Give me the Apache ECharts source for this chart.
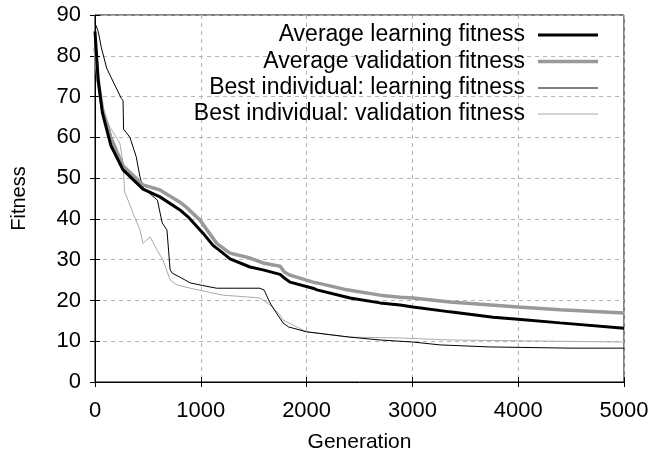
<!DOCTYPE html>
<html><head><meta charset="utf-8">
<script src="https://cdn.jsdelivr.net/npm/echarts@6/dist/echarts.min.js"></script>
<style>html,body{margin:0;padding:0;background:#fff}#c{width:655px;height:462px}</style>
</head><body><div id="c"></div>
<script>
const seriesNames = ['Average learning fitness','Average validation fitness','Best individual: learning fitness','Best individual: validation fitness'];
const xTicks = [0,1000,2000,3000,4000,5000];
const yTicks = [0,10,20,30,40,50,60,70,80,90];

const genAvgLearn = [0,30,70,150,265,454,614,803,879,1021,1115,1210,1276,1465,1588,1749,1790,1843,2060,2098,2382,2410,2694,2883,3006,3355,3762,3998,4395,5000];
const valAvgLearn = [86,74,66,58,52,47.3,45.4,42.2,40.5,36.5,33.5,31.6,30.2,28.2,27.5,26.4,25.5,24.5,23,22.6,20.8,20.6,19.4,18.9,18.4,17.2,15.9,15.4,14.5,13.2];

const genAvgValid = [0,30,70,150,265,454,614,803,870,992,1150,1276,1465,1588,1749,1790,1843,2060,2098,2382,2694,2883,3006,3355,3998,4395,5000];
const valAvgValid = [82,74,67,60,53,48.3,47.1,44.1,42.7,39.7,34,31.6,30.4,29.2,28.4,27,26.2,24.5,24.3,22.6,21.3,20.8,20.6,19.6,18.4,17.7,16.9];

const genBestLearn = [0,30,60,110,150,250,265,270,330,390,425,454,590,635,680,710,730,803,900,1050,1150,1560,1600,1654,1700,1777,1830,2000,2410,2694,3006,3260,3730,4490,5000];
const valBestLearn = [88,86,82,77,74.8,69.5,69,62,60,55.2,50.3,47.6,44.6,39,37.3,27.5,26.7,25.7,24.3,23.5,23,23,22.5,19.4,17.5,14.5,13.5,12.3,11,10.3,9.8,9.1,8.6,8.3,8.3];

const genBestValid = [0,20,70,140,235,265,280,300,360,425,454,520,585,643,710,775,900,1060,1210,1465,1560,1654,1750,1777,2000,2410,2883,3355,5000];
const valBestValid = [80,75,66.7,62.5,58.6,53.7,46.6,45.4,41.4,37.3,34,35.6,32.4,29.9,25,23.8,23,22.1,21.3,20.8,20.6,18.9,16.4,15.2,12.3,11,10.8,10.3,9.8];

function pairs(g, v){ return g.map((x,i)=>[x, v[i]]); }

const colors = ['#000000','#999999','#000000','#aaaaaa'];
const widths = [3,3.5,1,1];
const datas = [pairs(genAvgLearn,valAvgLearn),pairs(genAvgValid,valAvgValid),pairs(genBestLearn,valBestLearn),pairs(genBestValid,valBestValid)];
const FONT = 'Liberation Sans, Arial, sans-serif';

const legendTops = [23.5,50,76.5,102.5];
const legends = seriesNames.map((n,i)=>({
  show:true, type:'plain',
  data:[n], right:57, top:legendTops[i], bottom:'auto', left:'auto', align:'right', orient:'vertical',
  itemWidth:60, itemHeight:widths[i], icon:'rect', selectedMode:false, padding:0,
  textStyle:{fontFamily:FONT, fontSize:23, color:'#000', padding:[0,8,0,0]},
  itemStyle:{color:colors[i], borderWidth:0}
}));

const chart = echarts.init(document.getElementById('c'), null, {renderer:'canvas'});
chart.setOption({
  animation:false,
  backgroundColor:'#fff',
  grid:{left:95,right:31,top:15,bottom:80,show:true,borderColor:'#000',borderWidth:1,backgroundColor:'transparent',containLabel:false,outerBoundsMode:'none'},
  legend: legends,
  xAxis:[{type:'value',min:xTicks[0],max:xTicks[xTicks.length-1],interval:1000,
    name:'Generation',nameLocation:'middle',nameGap:50,
    nameTextStyle:{fontFamily:FONT,fontSize:21,color:'#000'},
    axisLine:{show:true,lineStyle:{color:'#000'}},
    axisTick:{show:true,inside:true,length:5,lineStyle:{color:'#000'}},
    axisLabel:{fontFamily:FONT,fontSize:22,color:'#000',margin:18,formatter:(v)=>String(v)},
    splitLine:{show:true,lineStyle:{color:'#b4b4b4',type:[4,4],width:1}}},
   {type:'value',position:'top',min:0,max:5000,interval:1000,
    axisLine:{show:false},axisTick:{show:true,inside:true,length:5,lineStyle:{color:'#000'}},
    axisLabel:{show:false},splitLine:{show:false}}],
  yAxis:[{type:'value',min:yTicks[0],max:yTicks[yTicks.length-1],interval:10,
    name:'Fitness',nameLocation:'middle',nameGap:66,
    nameTextStyle:{fontFamily:FONT,fontSize:20,color:'#000'},
    axisLine:{show:true,lineStyle:{color:'#000'}},
    axisTick:{show:true,inside:true,length:5,lineStyle:{color:'#000'}},
    axisLabel:{fontFamily:FONT,fontSize:22,color:'#000',margin:14,formatter:(v)=>String(v)},
    splitLine:{show:true,lineStyle:{color:'#b4b4b4',type:[4,4],width:1}}},
   {type:'value',position:'right',min:0,max:90,interval:10,
    axisLine:{show:false},axisTick:{show:true,inside:true,length:5,lineStyle:{color:'#000'}},
    axisLabel:{show:false},splitLine:{show:false}}],
  series: seriesNames.map((n,i)=>({
    name:n, type:'line', data:datas[i], showSymbol:false, symbol:'none',
    lineStyle:{color:colors[i],width:widths[i]}, itemStyle:{color:colors[i]},
    z: 10 - i
  }))
});
</script></body></html>
